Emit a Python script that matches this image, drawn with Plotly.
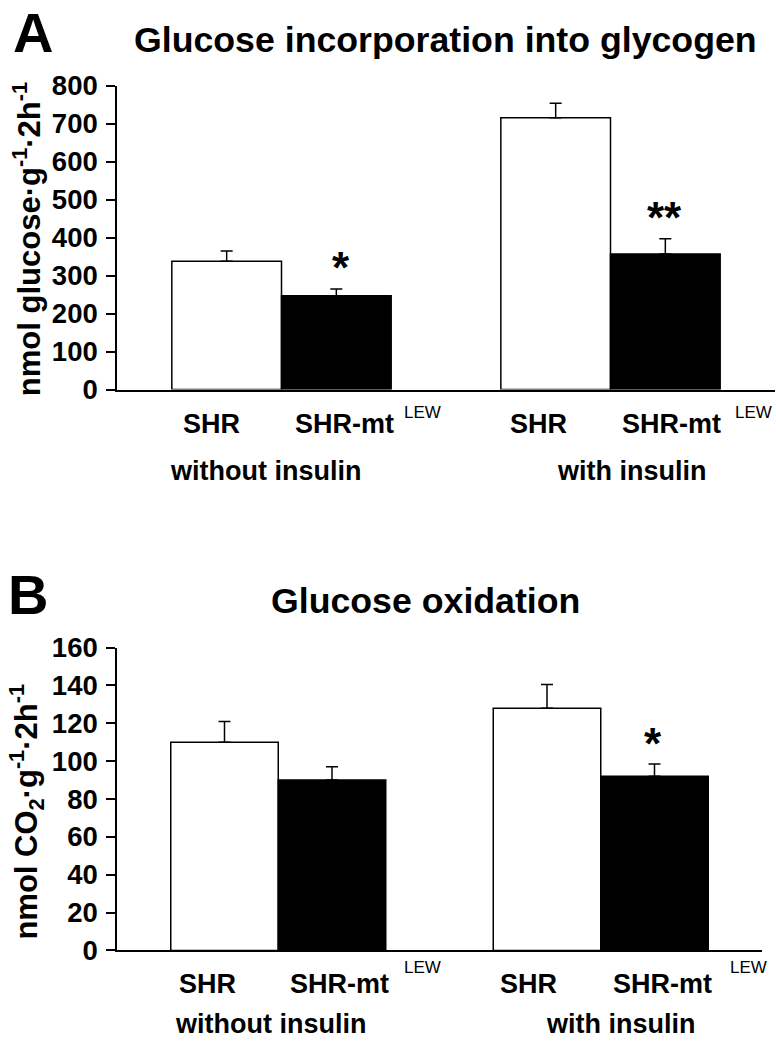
import plotly.graph_objects as go

W, H = 776, 1044

groups = ["without insulin", "with insulin"]
strains = ["SHR", "SHR-mt"]

glycogen_shr = [338, 716]
glycogen_shr_err = [27, 38]
glycogen_mt = [247, 357]
glycogen_mt_err = [18, 40]

oxid_shr = [110, 128]
oxid_shr_err = [11, 12.5]
oxid_mt = [90, 92]
oxid_mt_err = [7, 6.5]

yticks_a = [0, 100, 200, 300, 400, 500, 600, 700, 800]
yticks_b = [0, 20, 40, 60, 80, 100, 120, 140, 160]

FONT = "Liberation Sans, Arial, sans-serif"


def px(x):
    return x / W


def py(y):
    return 1 - y / H


fig = go.Figure()


def add_bars(xa, ya, shr, shr_err, mt, mt_err):
    fig.add_trace(go.Bar(
        x=groups, y=shr, name="SHR", xaxis=xa, yaxis=ya,
        marker=dict(color="white", line=dict(color="black", width=1.5)),
        error_y=dict(type="data", array=shr_err, arrayminus=[0] * len(shr),
                     symmetric=False, color="black", thickness=1.5, width=6),
        showlegend=False, hoverinfo="skip"))
    fig.add_trace(go.Bar(
        x=groups, y=mt, name="SHR-mt LEW", xaxis=xa, yaxis=ya,
        marker=dict(color="black", line=dict(color="black", width=1.5)),
        error_y=dict(type="data", array=mt_err, arrayminus=[0] * len(mt),
                     symmetric=False, color="black", thickness=1.5, width=6),
        showlegend=False, hoverinfo="skip"))


add_bars("x", "y", glycogen_shr, glycogen_shr_err, glycogen_mt, glycogen_mt_err)
add_bars("x2", "y2", oxid_shr, oxid_shr_err, oxid_mt, oxid_mt_err)

axis_common = dict(showgrid=False, zeroline=False, showline=True,
                   linecolor="black", linewidth=1.5)
tickfont = dict(family=FONT, size=27.5, color="black", weight="bold")

fig.update_layout(
    width=W, height=H,
    margin=dict(l=0, r=0, t=0, b=0),
    paper_bgcolor="white", plot_bgcolor="white",
    barmode="group", bargap=1 / 3, bargroupgap=0,
    font=dict(family=FONT, color="black"),
    xaxis=dict(domain=[px(117), px(775)], anchor="y", range=[-0.5, 1.5],
               showticklabels=False, ticks="", **axis_common),
    yaxis=dict(domain=[py(386), py(73)], anchor="x", range=[0, 800],
               tickvals=yticks_a, ticks="outside", ticklen=9, tickwidth=1.5,
               tickcolor="black", tickfont=tickfont, ticklabelstandoff=3,
               **axis_common),
    xaxis2=dict(domain=[px(117), px(762)], anchor="y2", range=[-0.5, 1.5],
                showticklabels=False, ticks="", **axis_common),
    yaxis2=dict(domain=[py(964), py(652)], anchor="x2", range=[0, 160],
                tickvals=yticks_b, ticks="outside", ticklen=9, tickwidth=1.5,
                tickcolor="black", tickfont=tickfont, ticklabelstandoff=3,
                **axis_common),
)

ann = []


def text(x, y, t, size, bold=True, xanchor="center", angle=0):
    ann.append(dict(x=px(x), y=py(y), xref="paper", yref="paper", text=t,
                    showarrow=False, xanchor=xanchor, yanchor="middle",
                    textangle=angle,
                    font=dict(family=FONT, size=size, color="black",
                              weight="bold" if bold else "normal")))


# panel letters and titles
text(33, 18, "A", 56)
text(446, 26, "Glucose incorporation into glycogen", 35.7)
text(28, 597, "B", 56)
text(425, 604, "Glucose oxidation", 35.7)

# y-axis titles
text(27, 231, "nmol glucose·g<sup>-1</sup>·2h<sup>-1</sup>", 31, angle=-90)
text(27, 821, "nmol CO<sub>2</sub>·g<sup>-1</sup>·2h<sup>-1</sup>", 31, angle=-90)

# category labels panel A
text(212, 422, "SHR", 27)
text(293, 422, "SHR-mt", 27, xanchor="left")
text(402, 410, "LEW", 17, bold=False, xanchor="left")
text(538, 422, "SHR", 27)
text(620, 422, "SHR-mt", 27, xanchor="left")
text(733, 410, "LEW", 17, bold=False, xanchor="left")
text(265, 470, groups[0], 27)
text(632, 470, groups[1], 27)

# category labels panel B
text(207, 999, "SHR", 27)
text(288, 999, "SHR-mt", 27, xanchor="left")
text(402, 982, "LEW", 17, bold=False, xanchor="left")
text(528, 999, "SHR", 27)
text(611, 999, "SHR-mt", 27, xanchor="left")
text(728, 982, "LEW", 17, bold=False, xanchor="left")
text(270, 1040, groups[0], 27)
text(621, 1040, groups[1], 27)

# significance marks
text(341, 260, "*", 44)
text(664, 209, "**", 44)
text(653, 751, "*", 44)

fig.update_layout(annotations=ann)
fig.write_html("out.html", config={"displayModeBar": False},
               post_script="document.body.style.margin='0';")
